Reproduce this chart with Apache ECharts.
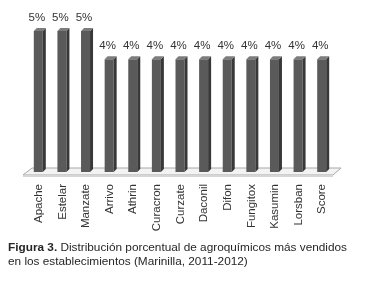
<!DOCTYPE html>
<html>
<head>
<meta charset="utf-8">
<script src="https://cdn.jsdelivr.net/npm/echarts@6/dist/echarts.min.js"></script>
<style>
html,body{margin:0;padding:0;background:#fff;}
#main{width:368px;height:287px;}
</style>
</head>
<body>
<div id="main"></div>
<script>
var categories = ['Apache', 'Estelar', 'Manzate', 'Arrivo', 'Athrin', 'Curacron', 'Curzate', 'Daconil', 'Difon', 'Fungitox', 'Kasumin', 'Lorsban', 'Score'];
var percents = [5, 5, 5, 4, 4, 4, 4, 4, 4, 4, 4, 4, 4];

var myChart = echarts.init(document.getElementById('main'));

// 3d looking column: front, right side, top
function renderBar(params, api) {
	var top = api.coord([api.value(0), api.value(1)]);
	var base = api.coord([api.value(0), 0]);
	var w = 9, d = 3;
	var x0 = top[0] - 5, x1 = x0 + w;
	var y0 = top[1], y1 = base[1];
	return {
		type: 'group',
		children: [{
			type: 'rect',
			shape: { x: x0, y: y0, width: w, height: y1 - y0 },
			style: { fill: '#5a5a5a' }
		}, {
			type: 'polygon',
			shape: { points: [[x1, y0], [x1 + d, y0 - d], [x1 + d, y1 - d], [x1, y1]] },
			style: { fill: '#383838' }
		}, {
			type: 'polygon',
			shape: { points: [[x0, y0], [x0 + d, y0 - d], [x1 + d, y0 - d], [x1, y0]] },
			style: { fill: '#7c7c7c' }
		}, {
			type: 'text',
			style: {
				text: api.value(1) + '%',
				x: x0 + 3,
				y: y0 - 7,
				align: 'center',
				verticalAlign: 'bottom',
				font: '11.5px "Liberation Sans"',
				fill: '#333'
			}
		}]
	};
}

// the floor under the columns
function renderFloor(params, api) {
	var cs = params.coordSys;
	var L = cs.x, R = cs.x + cs.width, B = cs.y + cs.height;
	return {
		type: 'group',
		children: [{
			type: 'polygon',
			shape: { points: [[L - 4, B + 3], [L + 5, B - 4], [R + 7, B - 4], [R - 1, B + 3]] },
			style: { fill: '#f3f3f3', stroke: '#a8a8a8', lineWidth: 1 }
		}, {
			type: 'rect',
			shape: { x: L - 4, y: B + 3, width: R - L + 3, height: 2 },
			style: { fill: '#d6d6d6' }
		}]
	};
}

var option = {
	backgroundColor: '#fff',
	animation: false,
	title: {
		left: 8,
		top: 241,
		padding: 0,
		text: '{b|Figura 3.} Distribución porcentual de agroquímicos más vendidos\nen los establecimientos (Marinilla, 2011-2012)',
		textStyle: {
			fontFamily: 'Liberation Sans',
			fontSize: 11.8,
			fontWeight: 'normal',
			color: '#262626',
			lineHeight: 14,
			rich: {
				b: { fontFamily: 'Liberation Sans', fontSize: 11.8, fontWeight: 'bold', color: '#262626', lineHeight: 14 }
			}
		}
	},
	grid: {
		left: 27,
		right: 34,
		top: 31,
		bottom: 115,
		containLabel: false
	},
	xAxis: {
		type: 'category',
		data: categories,
		axisLine: { show: false },
		axisTick: { show: false },
		axisLabel: {
			rotate: 90,
			margin: 12,
			interval: 0,
			color: '#333',
			fontSize: 11.5,
			fontFamily: 'Liberation Sans'
		}
	},
	yAxis: {
		type: 'value',
		min: 0,
		max: 5,
		show: false
	},
	series: [{
		type: 'custom',
		renderItem: renderFloor,
		data: [[0, 0]],
		silent: true
	}, {
		type: 'custom',
		renderItem: renderBar,
		data: categories.map(function(c, i) { return [i, percents[i]]; })
	}]
};
myChart.setOption(option);
</script>
</body>
</html>
